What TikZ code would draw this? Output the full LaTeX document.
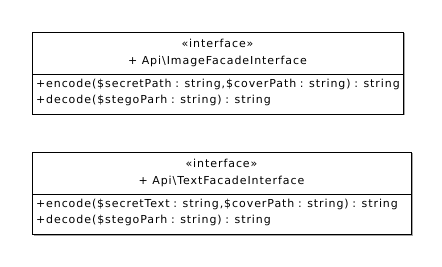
\documentclass[tikz,border=0pt]{standalone}
\usepackage{fontspec}
\setmainfont[LetterSpace=8.5]{DejaVu Sans}
\usetikzlibrary{positioning,shadows}

\newcommand{\lastdepth}{\rule[-6pt]{0pt}{6pt}}

\begin{document}
\begin{tikzpicture}[x=1pt,y=-1pt,
		ifacehead/.style={rectangle,draw=black,fill=white,line width=0.9pt,align=center,outer sep=0pt,
			minimum height=42pt,inner sep=0pt,font=\fontsize{11}{17}\selectfont,
			drop shadow={shadow xshift=1.5pt,shadow yshift=-1.5pt,fill=black!35,opacity=1}},
		ifacebody/.style={rectangle,draw=black,fill=white,line width=0.9pt,align=left,outer sep=0pt,
			minimum height=40pt,inner xsep=4pt,inner ysep=0pt,font=\fontsize{11}{16}\selectfont,
			drop shadow={shadow xshift=1.5pt,shadow yshift=-1.5pt,fill=black!35,opacity=1}}]
		\useasboundingbox (0,0) rectangle (442,267);

		\node[ifacehead,minimum width=371pt,anchor=north west]	(imgHead) at (32,32)
			{«interface»\\+ Api\textbackslash ImageFacadeInterface};
		\node[ifacebody,minimum width=371pt,text width=363pt,below=0pt of imgHead]	(imgBody)
			{+encode(\$secretPath : string,\$coverPath : string) : string\\+decode(\$stegoParh : string) : string\lastdepth};

		\node[ifacehead,minimum width=379pt,below=38pt of imgBody.south west,anchor=north west]	(txtHead)
			{«interface»\\+ Api\textbackslash TextFacadeInterface};
		\node[ifacebody,minimum width=379pt,text width=371pt,below=0pt of txtHead]	(txtBody)
			{+encode(\$secretText : string,\$coverPath : string) : string\\+decode(\$stegoParh : string) : string\lastdepth};
	\end{tikzpicture}
\end{document}
